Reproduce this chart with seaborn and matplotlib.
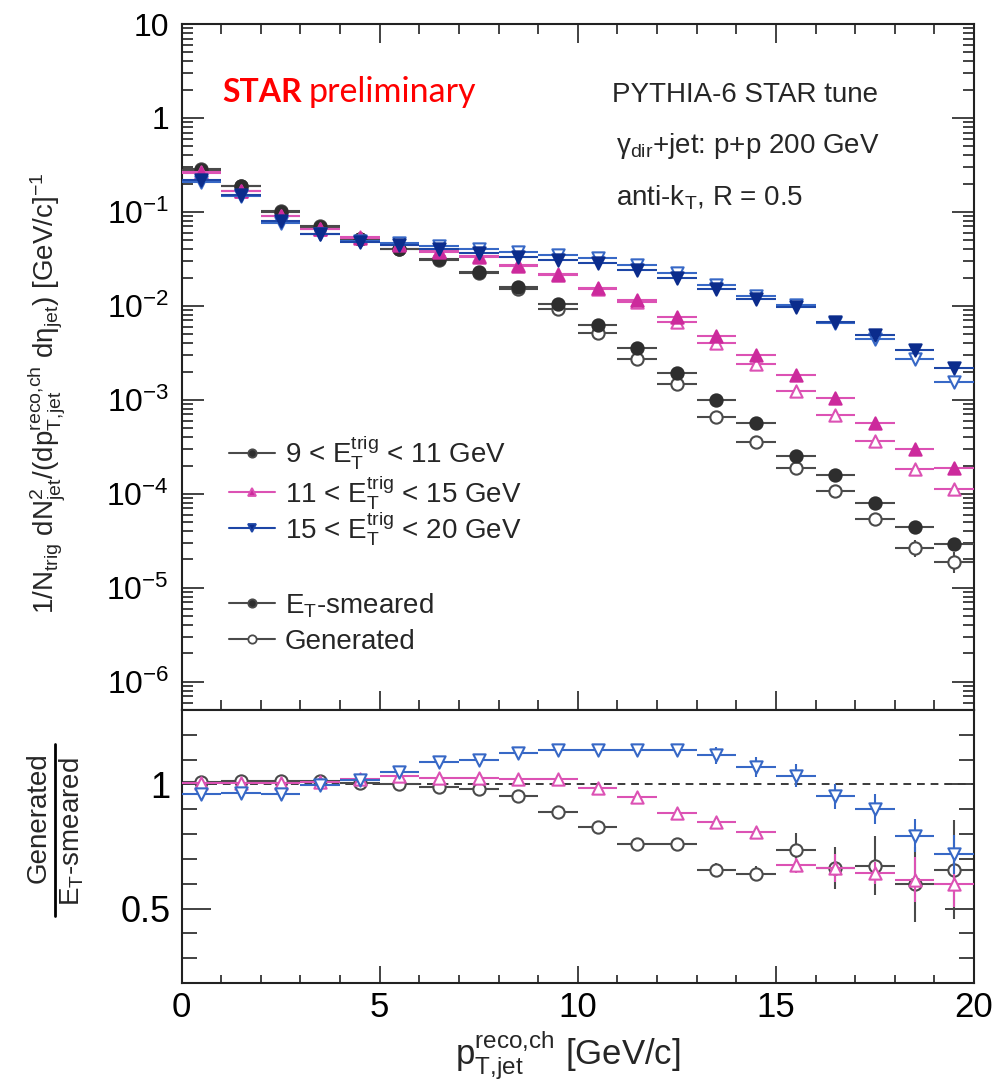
import matplotlib
matplotlib.use("Agg")
import matplotlib.pyplot as plt
from matplotlib.lines import Line2D
from matplotlib.ticker import FixedLocator, MultipleLocator, NullFormatter, LogLocator
import numpy as np
import seaborn as sns

sns.set_theme(style="ticks")
plt.rcParams["font.family"] = ["Liberation Sans", "DejaVu Sans"]
plt.rcParams["mathtext.fontset"] = "custom"
plt.rcParams["mathtext.rm"] = "Liberation Sans"
plt.rcParams["mathtext.it"] = "Liberation Sans:italic"
plt.rcParams["mathtext.bf"] = "Liberation Sans:bold"
plt.rcParams["mathtext.sf"] = "Liberation Sans"
plt.rcParams["mathtext.default"] = "regular"

# ---- jet pT bins (centres, GeV/c) ----
pt_bins = [0.5, 1.5, 2.5, 3.5, 4.5, 5.5, 6.5, 7.5, 8.5, 9.5,
           10.5, 11.5, 12.5, 13.5, 14.5, 15.5, 16.5, 17.5, 18.5, 19.5]
bin_half_width = 0.5

# ---- per-trigger yields: E_T-smeared (filled) and generated (open) ----
smeared_9_11 = [0.280, 0.189, 0.101, 0.0697, 0.0515, 0.0403, 0.0313, 0.0231, 0.0160, 0.0105,
                0.00626, 0.00359, 0.00195, 0.000997, 0.000563, 0.000255, 0.000159, 8.05e-5, 4.47e-5, 2.90e-5]
generated_9_11 = [0.283, 0.191, 0.102, 0.0706, 0.0519, 0.0403, 0.0310, 0.0226, 0.0153, 0.00932,
                  0.00510, 0.00273, 0.00148, 0.000655, 0.000360, 0.000187, 0.000106, 5.45e-5, 2.67e-5, 1.90e-5]
generated_9_11_relerr = [0.002, 0.002, 0.003, 0.003, 0.004, 0.005, 0.006, 0.007, 0.008, 0.010,
                         0.012, 0.015, 0.02, 0.03, 0.04, 0.05, 0.08, 0.12, 0.20, 0.25]

smeared_11_15 = [0.262, 0.168, 0.0906, 0.0659, 0.0524, 0.0446, 0.0378, 0.0334, 0.0266, 0.0213,
                 0.0154, 0.0116, 0.00757, 0.00478, 0.00300, 0.00184, 0.00104, 0.000571, 0.000298, 0.000187]
generated_11_15 = [0.264, 0.169, 0.0912, 0.0665, 0.0535, 0.0461, 0.0388, 0.0343, 0.0272, 0.0218,
                   0.0152, 0.0110, 0.00671, 0.00405, 0.00243, 0.00124, 0.00069, 0.000368, 0.000184, 0.000112]

smeared_15_20 = [0.219, 0.151, 0.0800, 0.0578, 0.0483, 0.0446, 0.0401, 0.0363, 0.0334, 0.0308,
                 0.0284, 0.0241, 0.0197, 0.0150, 0.01175, 0.00981, 0.00679, 0.00490, 0.00340, 0.00217]
generated_15_20 = [0.210, 0.146, 0.0770, 0.0576, 0.0491, 0.0468, 0.0437, 0.0399, 0.0377, 0.0350,
                   0.0323, 0.0274, 0.0224, 0.0168, 0.0126, 0.0102, 0.00660, 0.00442, 0.00270, 0.00156]

# ---- Generated / E_T-smeared ratios ----
ratio_9_11 = [1.009, 1.013, 1.013, 1.013, 1.007, 1.000, 0.989, 0.980, 0.953, 0.888,
              0.828, 0.761, 0.761, 0.657, 0.640, 0.735, 0.664, 0.673, 0.597, 0.657]
ratio_9_11_err = [0.004, 0.004, 0.004, 0.004, 0.005, 0.005, 0.006, 0.007, 0.008, 0.010,
                  0.012, 0.015, 0.018, 0.025, 0.030, 0.070, 0.085, 0.120, 0.150, 0.200]
ratio_11_15 = [1.007, 1.007, 1.007, 1.009, 1.020, 1.033, 1.027, 1.027, 1.023, 1.023,
               0.987, 0.949, 0.886, 0.848, 0.808, 0.675, 0.664, 0.644, 0.617, 0.597]
ratio_11_15_err = [0.004, 0.004, 0.004, 0.004, 0.005, 0.005, 0.006, 0.006, 0.007, 0.008,
                   0.009, 0.010, 0.012, 0.015, 0.018, 0.030, 0.056, 0.045, 0.090, 0.090]
ratio_15_20 = [0.960, 0.966, 0.962, 0.996, 1.016, 1.050, 1.090, 1.100, 1.128, 1.137,
               1.137, 1.137, 1.137, 1.117, 1.070, 1.036, 0.953, 0.902, 0.794, 0.718]
ratio_15_20_err = [0.004, 0.004, 0.004, 0.004, 0.005, 0.006, 0.007, 0.008, 0.009, 0.010,
                   0.011, 0.012, 0.015, 0.035, 0.040, 0.045, 0.050, 0.060, 0.065, 0.080]

# ---- tick labels ----
log_ticks = [1e-6, 1e-5, 1e-4, 1e-3, 1e-2, 1e-1, 1, 10]
log_tick_labels = [r"$10^{-6}$", r"$10^{-5}$", r"$10^{-4}$", r"$10^{-3}$",
                   r"$10^{-2}$", r"$10^{-1}$", "1", "10"]
ratio_ticks = [0.5, 1.0]
ratio_tick_labels = ["0.5", "1"]
pt_ticks = [0, 5, 10, 15, 20]
pt_tick_labels = ["0", "5", "10", "15", "20"]

legend_labels = [r"9 < E$^{trig}_{T}$ < 11 GeV",
                 r"11 < E$^{trig}_{T}$ < 15 GeV",
                 r"15 < E$^{trig}_{T}$ < 20 GeV"]

# ---- colours ----
GREY_FILL, GREY_LINE = "#2e2e2e", "#4a4a4a"
PINK_FILL, PINK_LINE = "#cc2a9c", "#dc52b4"
BLUE_FILL, BLUE_BAR, BLUE_LINE = "#0b2c8c", "#1d46a6", "#3768c6"
AXIS_COL = "#222222"

W, H = 997, 1080
fig = plt.figure(figsize=(W / 100, H / 100), dpi=100)
x0, x1 = 181.5, 974.0
ax_top = fig.add_axes([x0 / W, 1 - 710 / H, (x1 - x0) / W, (710 - 24) / H])
ax_rat = fig.add_axes([x0 / W, 1 - 983 / H, (x1 - x0) / W, (983 - 710) / H])

ax_top.set_yscale("log")
ax_top.set_xlim(0, 20)
ax_top.set_ylim(5e-7, 10)
ax_rat.set_xlim(0, 20)
ax_rat.set_ylim(0.2, 1.3)


def draw_series(ax, y, yerr, marker, face, edge, bar, size, z):
    ax.errorbar(pt_bins, y, xerr=bin_half_width, yerr=yerr, fmt="none",
                ecolor=bar, elinewidth=1.5, capsize=0, zorder=z)
    sns.scatterplot(x=pt_bins, y=y, ax=ax, marker=marker, s=size, color=face,
                    edgecolor=edge, linewidth=1.5, zorder=z + 0.5, legend=False)


gen_err_9_11 = [v * r for v, r in zip(generated_9_11, generated_9_11_relerr)]

# upper panel: yields
draw_series(ax_top, generated_9_11, gen_err_9_11, "o", "white", GREY_LINE, GREY_LINE, 78, 2)
draw_series(ax_top, smeared_9_11, None, "o", GREY_FILL, GREY_FILL, GREY_LINE, 78, 3)
draw_series(ax_top, generated_11_15, None, "^", "white", PINK_LINE, PINK_LINE, 78, 4)
draw_series(ax_top, smeared_11_15, None, "^", PINK_FILL, PINK_FILL, PINK_LINE, 78, 5)
draw_series(ax_top, generated_15_20, None, "v", "white", BLUE_LINE, BLUE_LINE, 78, 6)
draw_series(ax_top, smeared_15_20, None, "v", BLUE_FILL, BLUE_FILL, BLUE_BAR, 78, 7)

# lower panel: ratios
ax_rat.axhline(1.0, color="#3a3a3a", lw=1.4, ls=(0, (4, 3)), zorder=1)
draw_series(ax_rat, ratio_9_11, ratio_9_11_err, "o", "white", GREY_LINE, GREY_LINE, 78, 2)
draw_series(ax_rat, ratio_11_15, ratio_11_15_err, "^", "white", PINK_LINE, PINK_LINE, 78, 4)
draw_series(ax_rat, ratio_15_20, ratio_15_20_err, "v", "white", BLUE_LINE, BLUE_LINE, 78, 6)

# ---- axes styling ----
for ax in (ax_top, ax_rat):
    for sp in ax.spines.values():
        sp.set_visible(True)
        sp.set_linewidth(1.5)
        sp.set_color(AXIS_COL)
    ax.xaxis.set_major_locator(FixedLocator(pt_ticks))
    ax.xaxis.set_minor_locator(MultipleLocator(1))
    ax.tick_params(axis="both", which="both", direction="in", top=True, right=True,
                   color=AXIS_COL, width=1.2, labelcolor="black")

ax_top.yaxis.set_major_locator(FixedLocator(log_ticks))
ax_top.yaxis.set_minor_locator(LogLocator(base=10, subs=np.arange(2, 10), numticks=30))
ax_top.yaxis.set_minor_formatter(NullFormatter())
ax_top.set_yticklabels(log_tick_labels)
ax_top.tick_params(axis="y", which="major", length=16, labelsize=23, pad=9)
ax_top.tick_params(axis="y", which="minor", length=8)
ax_top.tick_params(axis="x", which="major", length=14, labelbottom=False)
ax_top.tick_params(axis="x", which="minor", length=7)

ax_rat.yaxis.set_major_locator(FixedLocator(ratio_ticks))
ax_rat.yaxis.set_minor_locator(MultipleLocator(0.1))
ax_rat.set_yticklabels(ratio_tick_labels)
ax_rat.set_xticklabels(pt_tick_labels)
ax_rat.tick_params(axis="y", which="major", length=21, labelsize=26, pad=8)
ax_rat.tick_params(axis="y", which="minor", length=11)
ax_rat.tick_params(axis="x", which="major", length=12, labelsize=25, pad=6, top=False)
ax_rat.tick_params(axis="x", which="minor", length=6, top=False)

ax_top.set_xlabel("")
ax_top.set_ylabel("")
ax_rat.set_ylabel("")
ax_rat.set_xlabel("")


def fx(px):
    return px / W


def fy(py):
    return 1 - py / H


# ---- axis titles ----
fig.text(fx(568), fy(1065), r"p$^{reco{,}ch}_{T{,}jet}$ [GeV/c]", fontsize=25,
         ha="center", va="baseline")
fig.text(fx(47), fy(393),
         r"1/N$_{trig}$ dN$^{2}_{jet}$/(dp$^{reco{,}ch}_{T{,}jet}$ dη$_{jet}$) [GeV/c]$^{-1}$",
         rotation=90, ha="center", va="center", fontsize=20)
fig.text(fx(39), fy(818), "Generated", rotation=90, ha="center", va="center", fontsize=20)
fig.text(fx(72), fy(832), r"E$_{T}$-smeared", rotation=90, ha="center", va="center", fontsize=20)
fig.add_artist(Line2D([fx(55), fx(55)], [fy(744), fy(916)], color="black", lw=2.0,
                      transform=fig.transFigure))

# ---- labels inside the plot ----
fig.text(fx(222), fy(102), "STAR", color="#ff0000", fontsize=23, fontweight="bold",
         family="Lato", va="baseline")
fig.text(fx(309), fy(102), "preliminary", color="#ff0000", fontsize=24.5,
         family="Lato", va="baseline")
fig.text(fx(612), fy(102), "PYTHIA-6 STAR tune", fontsize=20, va="baseline")
fig.text(fx(616), fy(153), r"$\gamma_{dir}$+jet: p+p 200 GeV", fontsize=20, va="baseline")
fig.text(fx(616), fy(205), r"anti-k$_{T}$, R = 0.5", fontsize=20, va="baseline")

# ---- legend ----
legend_rows = [
    (453, "o", GREY_FILL, GREY_LINE, legend_labels[0]),
    (492, "^", PINK_FILL, PINK_LINE, legend_labels[1]),
    (528, "v", BLUE_FILL, BLUE_BAR, legend_labels[2]),
    (603, "o", GREY_FILL, GREY_LINE, r"E$_{T}$-smeared"),
    (639, "o", "white", GREY_LINE, "Generated"),
]
for py, mk, face, line, label in legend_rows:
    fig.add_artist(Line2D([fx(229), fx(275)], [fy(py), fy(py)], color=line, lw=1.5,
                          transform=fig.transFigure))
    fig.add_artist(Line2D([fx(252)], [fy(py)], marker=mk, markersize=6,
                          markerfacecolor=face, markeredgecolor=line, markeredgewidth=1.3,
                          linestyle="none", transform=fig.transFigure))
    fig.text(fx(285), fy(py + 10), label, fontsize=20, va="baseline")

fig.savefig("out.png", dpi=100)
